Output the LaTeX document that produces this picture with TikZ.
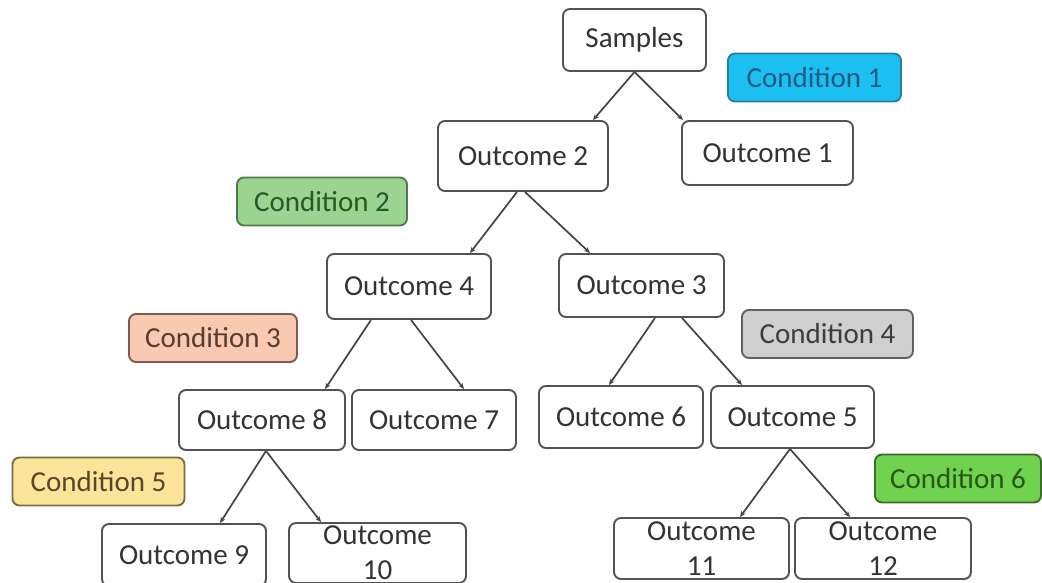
\documentclass[tikz,border=0pt]{standalone}
\usepackage{fontspec}
\setmainfont{Carlito}
\usetikzlibrary{arrows.meta}
\definecolor{boxline}{HTML}{525252}
\definecolor{txt}{HTML}{333333}
\definecolor{arr}{HTML}{444444}
\definecolor{cAf}{HTML}{1CC0F0}\definecolor{cAd}{HTML}{2E7C9C}\definecolor{cAt}{HTML}{1F5A85}
\definecolor{cBf}{HTML}{9AD490}\definecolor{cBd}{HTML}{4F7A4B}\definecolor{cBt}{HTML}{2D5628}
\definecolor{cCf}{HTML}{F9CAB1}\definecolor{cCd}{HTML}{7A5B52}\definecolor{cCt}{HTML}{5A3A30}
\definecolor{cDf}{HTML}{CFCFCF}\definecolor{cDd}{HTML}{616161}\definecolor{cDt}{HTML}{3C3C3C}
\definecolor{cEf}{HTML}{FDE49B}\definecolor{cEd}{HTML}{7A6A46}\definecolor{cEt}{HTML}{574727}
\definecolor{cFf}{HTML}{70D24E}\definecolor{cFd}{HTML}{3E6A2E}\definecolor{cFt}{HTML}{265618}
\begin{document}
\begin{tikzpicture}[x=1pt,y=-1pt,
  every node/.style={inner sep=0pt,font=\fontsize{29}{35}\selectfont},
  outbox/.style={draw=boxline,fill=white,line width=1.9pt,rounded corners=7pt,text=txt,align=center},
  condbox/.style={line width=1.9pt,rounded corners=7pt,minimum height=48pt},
  link/.style={draw=arr,line width=1.7pt,-{Stealth[length=6pt,width=5pt]}}]
\useasboundingbox[fill=white] (0,0) rectangle (1042,582);
\clip (0,0) rectangle (1042,582);
% outcome boxes
\node[outbox,minimum width=143pt,minimum height=62pt] (samples) at (634.5,40) {Samples};
\node[outbox,minimum width=170pt,minimum height=70pt] (o2) at (523,156) {Outcome 2};
\node[outbox,minimum width=171pt,minimum height=64pt] (o1) at (767.5,153) {Outcome 1};
\node[outbox,minimum width=164pt,minimum height=65pt] (o4) at (409,286.5) {Outcome 4};
\node[outbox,minimum width=165pt,minimum height=63pt] (o3) at (641.5,285.5) {Outcome 3};
\node[outbox,minimum width=166pt,minimum height=60pt] (o8) at (262,420) {Outcome 8};
\node[outbox,minimum width=164pt,minimum height=60pt] (o7) at (434,420) {Outcome 7};
\node[outbox,minimum width=164pt,minimum height=62pt] (o6) at (621,417) {Outcome 6};
\node[outbox,minimum width=163pt,minimum height=62pt] (o5) at (792.5,417) {Outcome 5};
\node[outbox,minimum width=164pt,minimum height=62pt] (o9) at (184,555) {Outcome 9};
\node[outbox,minimum width=177pt,minimum height=60pt] (o10) at (377.5,553) {Outcome\\10};
\node[outbox,minimum width=175pt,minimum height=61pt] (o11) at (701.5,548.5) {Outcome\\11};
\node[outbox,minimum width=176pt,minimum height=61pt] (o12) at (883,548.5) {Outcome\\12};
% condition boxes
\node[condbox,draw=cAd,fill=cAf,text=cAt,minimum width=173pt] (c1) at (814.5,77.5) {Condition 1};
\node[condbox,draw=cBd,fill=cBf,text=cBt,minimum width=170pt] (c2) at (322,201.5) {Condition 2};
\node[condbox,draw=cCd,fill=cCf,text=cCt,minimum width=168pt] (c3) at (213,338) {Condition 3};
\node[condbox,draw=cDd,fill=cDf,text=cDt,minimum width=171pt] (c4) at (827.5,334) {Condition 4};
\node[condbox,draw=cEd,fill=cEf,text=cEt,minimum width=172pt] (c5) at (98.5,481.5) {Condition 5};
\node[condbox,draw=cFd,fill=cFf,text=cFt,minimum width=166pt] (c6) at (958,478.5) {Condition 6};
% connectors
\draw[link] (samples.south) -- ([xshift=70]o2.north);
\draw[link] (samples.south) -- ([xshift=-84.5]o1.north);
\draw[link] ([xshift=-6]o2.south) -- ([xshift=61]o4.north);
\draw[link] ([xshift=2]o2.south) -- ([xshift=-51.5]o3.north);
\draw[link] ([xshift=-38]o4.south) -- ([xshift=63]o8.north);
\draw[link] ([xshift=2]o4.south) -- ([xshift=30]o7.north);
\draw[link] ([xshift=13.5]o3.south) -- ([xshift=-12]o6.north);
\draw[link] ([xshift=40.5]o3.south) -- ([xshift=-50.5]o5.north);
\draw[link] ([xshift=4]o8.south) -- ([xshift=36]o9.north);
\draw[link] ([xshift=4]o8.south) -- ([xshift=-56.5]o10.north);
\draw[link] ([xshift=-2.5]o5.south) -- ([xshift=38.5]o11.north);
\draw[link] ([xshift=-2.5]o5.south) -- ([xshift=-33]o12.north);
\end{tikzpicture}
\end{document}
